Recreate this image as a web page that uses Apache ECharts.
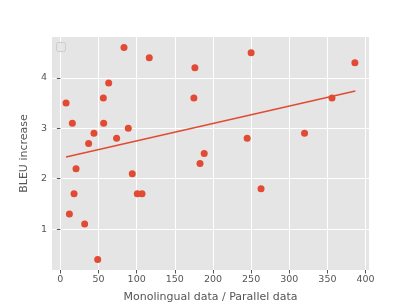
<!DOCTYPE html>
<html>
<head>
<meta charset="utf-8">
<script src="https://cdn.jsdelivr.net/npm/echarts@6/dist/echarts.min.js"></script>
<style>html,body{margin:0;padding:0;background:#fff}#c{width:411px;height:308px}</style>
</head>
<body>
<div id="c"></div>
<script>
const xValues = [7.4, 15.7, 20.5, 37, 44, 56.3, 56.7, 63.3, 73.7, 83.4, 89, 116.5, 176.3, 175, 188.5, 183, 250, 386, 356, 244.8, 320, 17.9, 11.8, 31.8, 48.9, 94.2, 100.8, 107, 263];
const yValues = [3.5, 3.1, 2.2, 2.7, 2.9, 3.6, 3.1, 3.9, 2.8, 4.6, 3.0, 4.4, 4.2, 3.6, 2.5, 2.3, 4.5, 4.3, 3.6, 2.8, 2.9, 1.7, 1.3, 1.1, 0.4, 2.1, 1.7, 1.7, 1.8];
const fitX = [7.4, 386.6];
const fitY = [2.43, 3.74];
const xTicks = [0, 50, 100, 150, 200, 250, 300, 350, 400];
const yTicks = [1, 2, 3, 4];

const points = xValues.map((x, i) => [x, yValues[i]]);
const fitLine = fitX.map((x, i) => [x, fitY[i]]);

const chart = echarts.init(document.getElementById('c'), null, {renderer: 'canvas'});
const font = 'DejaVu Sans';
chart.setOption({
  animation: false,
  backgroundColor: '#ffffff',
  grid: {left: 52, top: 37, right: 42, bottom: 35, show: true, backgroundColor: '#E5E5E5', borderWidth: 0},
  xAxis: {
    type: 'value', min: -11, max: 404.5,
    name: 'Monolingual data / Parallel data', nameLocation: 'middle', nameGap: 22,
    nameTextStyle: {fontFamily: font, fontSize: 11, color: '#555555'},
    axisLine: {show: false},
    axisTick: {show: true, length: 3.5, lineStyle: {color: '#555555', width: 1}, customValues: xTicks},
    axisLabel: {fontFamily: font, fontSize: 9.5, color: '#555555', margin: 5, customValues: xTicks},
    splitLine: {show: true, lineStyle: {color: '#ffffff', width: 1}}
  },
  yAxis: {
    type: 'value', min: 0.19, max: 4.81,
    name: 'BLEU increase', nameLocation: 'middle', nameGap: 21,
    nameTextStyle: {fontFamily: font, fontSize: 11, color: '#555555'},
    axisLine: {show: false},
    axisTick: {show: true, length: 3.5, lineStyle: {color: '#555555', width: 1}, customValues: yTicks},
    axisLabel: {fontFamily: font, fontSize: 9.5, color: '#555555', margin: 5, customValues: yTicks},
    splitLine: {show: true, lineStyle: {color: '#ffffff', width: 1}}
  },
  graphic: [{
    type: 'rect', left: 56, top: 42, z: 100,
    shape: {width: 9, height: 9, r: 2},
    style: {fill: 'rgba(229,229,229,0.8)', stroke: '#cccccc', lineWidth: 1}
  }],
  series: [
    {type: 'scatter', data: points, symbolSize: 7, itemStyle: {color: '#E24A33', opacity: 1}, z: 3},
    {type: 'line', data: fitLine, symbol: 'none', lineStyle: {color: '#E24A33', width: 1.4}, z: 2}
  ]
});
</script>
</body>
</html>
